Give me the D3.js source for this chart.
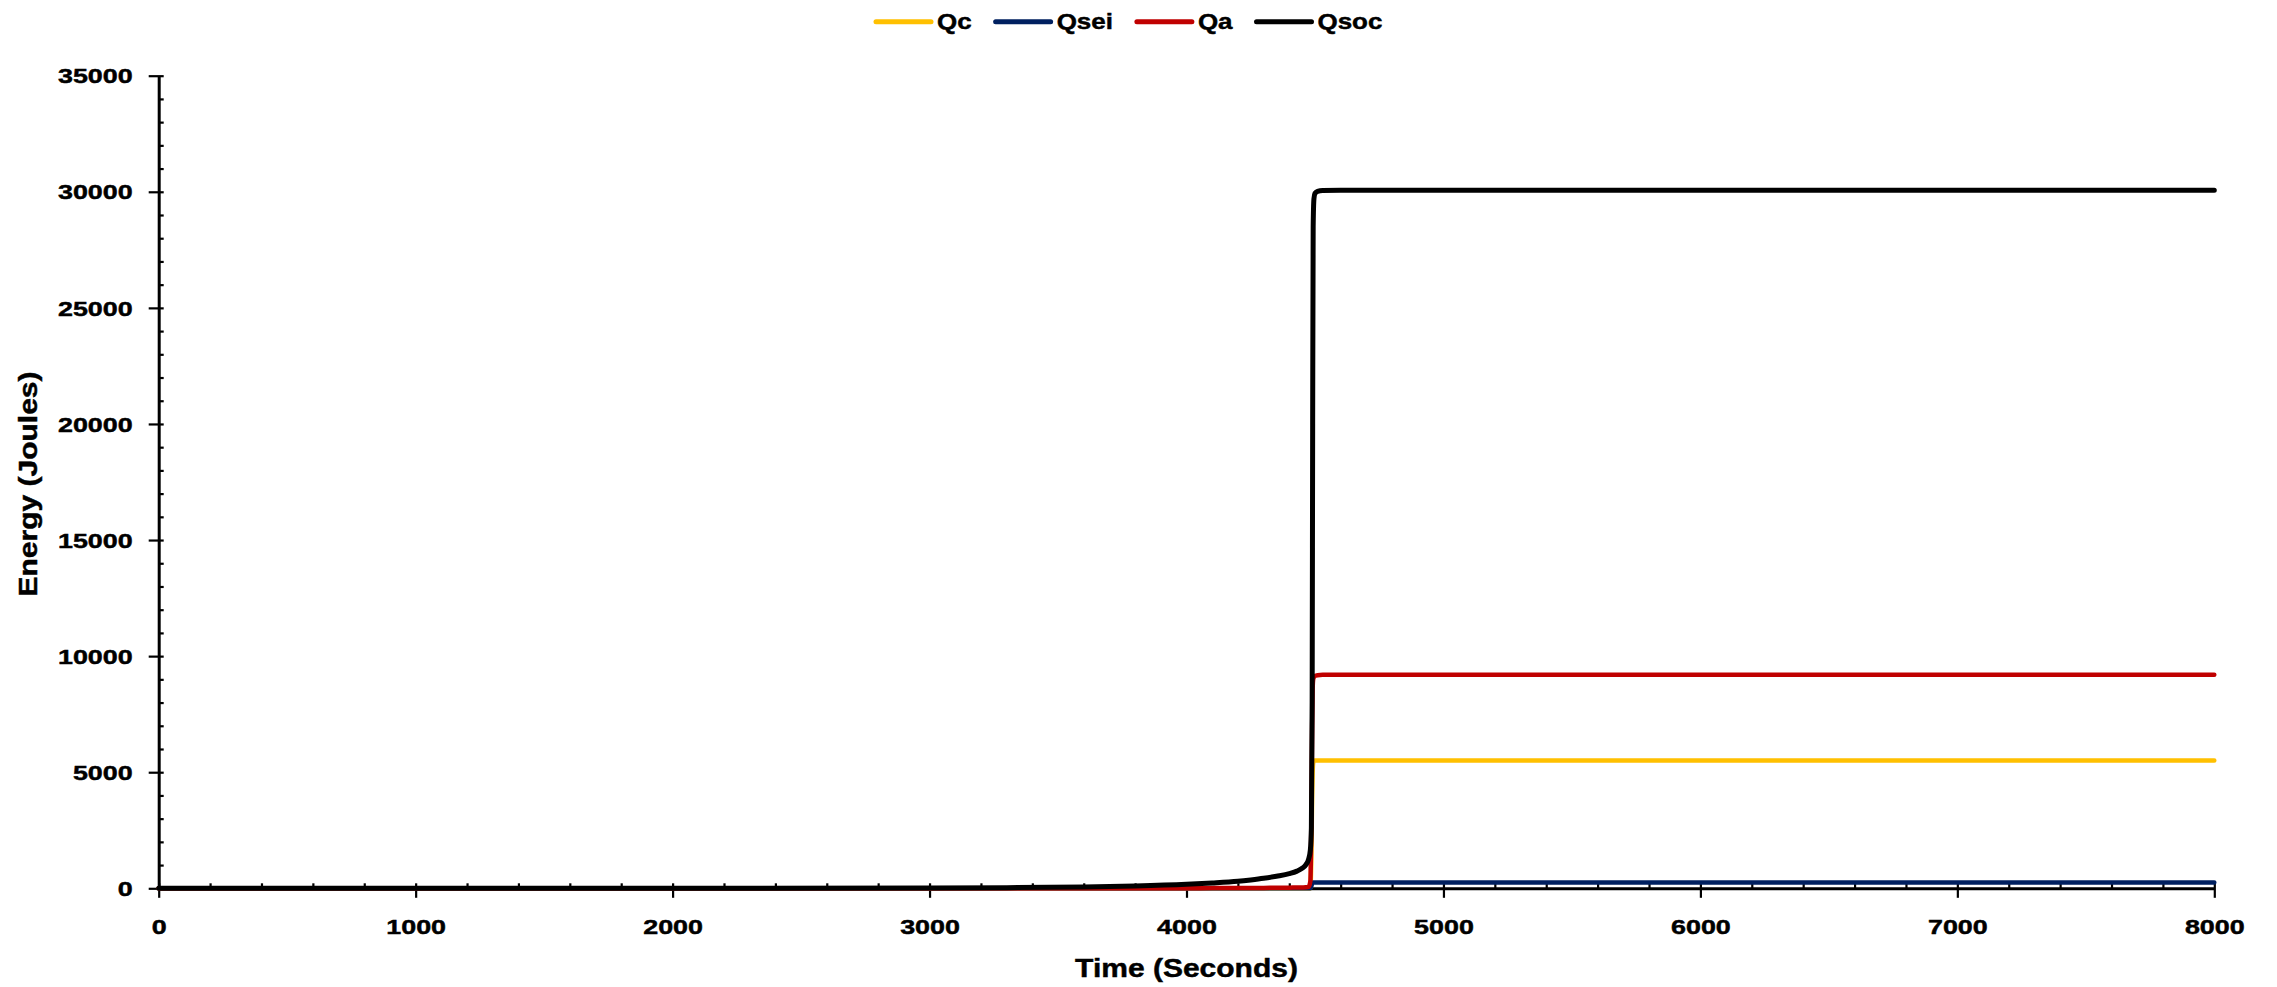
<!DOCTYPE html>
<html><head><meta charset="utf-8">
<script src="https://cdn.jsdelivr.net/npm/d3@7"></script>
<style>
body{margin:0;background:#fff}
text{font-family:"Liberation Sans",Arial,sans-serif;font-weight:bold;fill:#000;stroke:#000;stroke-width:0.45px}
</style>
</head><body>
<svg id="chart" width="2277" height="987"></svg>
<script>
// ---- data ----
const timeSeconds = [0, 1000, 2000, 3000, 3300, 3600, 3800, 4000, 4100, 4200, 4250, 4300, 4350, 4400, 4430, 4450, 4465, 4475, 4482, 4486, 4489, 4491, 4493, 4496, 4500, 4510, 4530, 4600, 5000, 6000, 7000, 8000];
const qc   = [0, 0, 0, 0, 0, 0, 0, 0, 0, 0, 0, 0, 0, 0, 0, 0, 0, 0, 0, 1500, 4000, 5000, 5400, 5480, 5500, 5500, 5500, 5500, 5500, 5500, 5500, 5500];
const qsei = [0, 0, 0, 0, 0, 0, 0, 0, 0, 0, 0, 0, 0, 0, 0, 0, 0, 0, 0, 100, 200, 240, 250, 250, 250, 250, 250, 250, 250, 250, 250, 250];
const qa   = [0, 0, 0, 0, 0, 0, 2, 5, 8, 12, 15, 18, 22, 28, 33, 38, 45, 60, 300, 3000, 7000, 8600, 9000, 9100, 9150, 9180, 9195, 9200, 9200, 9200, 9200, 9200];
const qsoc = [0, 0, 2, 12, 28, 60, 100, 170, 225, 300, 360, 430, 520, 630, 740, 860, 1020, 1250, 1650, 2600, 8000, 20000, 28500, 29700, 29930, 30020, 30060, 30070, 30070, 30070, 30070, 30070];

const seriesNames  = ["Qc", "Qsei", "Qa", "Qsoc"];
const seriesValues = [qc, qsei, qa, qsoc];
const seriesColors = ["#FFC000", "#002060", "#C00000", "#000000"];

const xTickValues = [0, 1000, 2000, 3000, 4000, 5000, 6000, 7000, 8000];
const yTickValues = [0, 5000, 10000, 15000, 20000, 25000, 30000, 35000];
const xMinorStep = 200;
const yMinorStep = 1000;

const xTitle = "Time (Seconds)";
const yTitle = "Energy (Joules)";

// ---- layout ----
const svg = d3.select("#chart");
const plot = {left: 158.7, right: 2214.3, top: 75.7, bottom: 888.3};
const x = d3.scaleLinear().domain([0, 8000]).range([plot.left, plot.right]);
const y = d3.scaleLinear().domain([0, 35000]).range([plot.bottom, plot.top]);

const tickFont = 21, tickStretch = 1.28;
const titleFont = 25, titleStretch = 1.2;
const legendFont = 22, legendStretch = 1.18;

// minor ticks
const xMinor = d3.range(0, 8001, xMinorStep).filter(v => v % 1000 !== 0);
const yMinor = d3.range(0, 35001, yMinorStep).filter(v => v % 5000 !== 0);

svg.append("g").attr("transform", `translate(0,${plot.bottom})`)
  .call(d3.axisBottom(x).tickValues(xMinor).tickSize(-5).tickFormat(""))
  .call(g => g.select(".domain").remove())
  .call(g => g.selectAll("line").attr("stroke", "#000").attr("stroke-width", 2.2));

svg.append("g").attr("transform", `translate(${plot.left},0)`)
  .call(d3.axisLeft(y).tickValues(yMinor).tickSize(-5).tickFormat(""))
  .call(g => g.select(".domain").remove())
  .call(g => g.selectAll("line").attr("stroke", "#000").attr("stroke-width", 2.2));

// major x axis
svg.append("g").attr("transform", `translate(0,${plot.bottom})`)
  .call(d3.axisBottom(x).tickValues(xTickValues).tickSize(9.5).tickSizeOuter(0).tickFormat(d3.format("d")))
  .call(g => g.select(".domain").attr("stroke", "#000").attr("stroke-width", 3))
  .call(g => g.selectAll(".tick line").attr("y1", -5).attr("stroke", "#000").attr("stroke-width", 2.2))
  .call(g => g.selectAll(".tick text")
     .attr("y", 31).attr("dy", "0.71em")
     .attr("font-size", tickFont)
     .attr("transform", `scale(${tickStretch},1)`)
     .attr("fill", "#000"));

// major y axis
svg.append("g").attr("transform", `translate(${plot.left},0)`)
  .call(d3.axisLeft(y).tickValues(yTickValues).tickSize(10).tickSizeOuter(0).tickFormat(d3.format("d")))
  .call(g => g.select(".domain").attr("stroke", "#000").attr("stroke-width", 3))
  .call(g => g.selectAll(".tick line").attr("x1", 5).attr("stroke", "#000").attr("stroke-width", 2.2))
  .call(g => g.selectAll(".tick text")
     .attr("x", -26 / tickStretch).attr("dy", "0.34em")
     .attr("font-size", tickFont)
     .attr("transform", `scale(${tickStretch},1)`)
     .attr("fill", "#000"));

// series lines
const line = d3.line()
  .x((d, i) => x(timeSeconds[i]))
  .y(d => y(d))
  .curve(d3.curveMonotoneX);

seriesValues.forEach((vals, k) => {
  svg.append("path")
    .datum(vals)
    .attr("fill", "none")
    .attr("stroke", seriesColors[k])
    .attr("stroke-width", k === 3 ? 5 : 4.5)
    .attr("stroke-linejoin", "round")
    .attr("stroke-linecap", "round")
    .attr("d", line);
});

// axis titles
svg.append("g").attr("transform", `translate(${(plot.left + plot.right) / 2},977)`)
  .append("text").attr("text-anchor", "middle").attr("font-size", titleFont)
  .attr("transform", `scale(${titleStretch},1)`).text(xTitle);

svg.append("g").attr("transform", `translate(37,484) rotate(-90)`)
  .append("text").attr("text-anchor", "middle").attr("font-size", titleFont)
  .attr("transform", `scale(${titleStretch},1)`).text(yTitle);

// legend
let lx = 876;
const legend = svg.append("g");
seriesNames.forEach((name, k) => {
  legend.append("line")
    .attr("x1", lx).attr("x2", lx + 55).attr("y1", 21.7).attr("y2", 21.7)
    .attr("stroke", seriesColors[k]).attr("stroke-width", 5).attr("stroke-linecap", "round");
  const t = legend.append("g").attr("transform", `translate(${lx + 61},28.5)`)
    .append("text").attr("font-size", legendFont)
    .attr("transform", `scale(${legendStretch},1)`).text(name);
  const w = t.node().getComputedTextLength() * legendStretch;
  lx = lx + 61 + w + 24;
});
</script>
</body></html>
